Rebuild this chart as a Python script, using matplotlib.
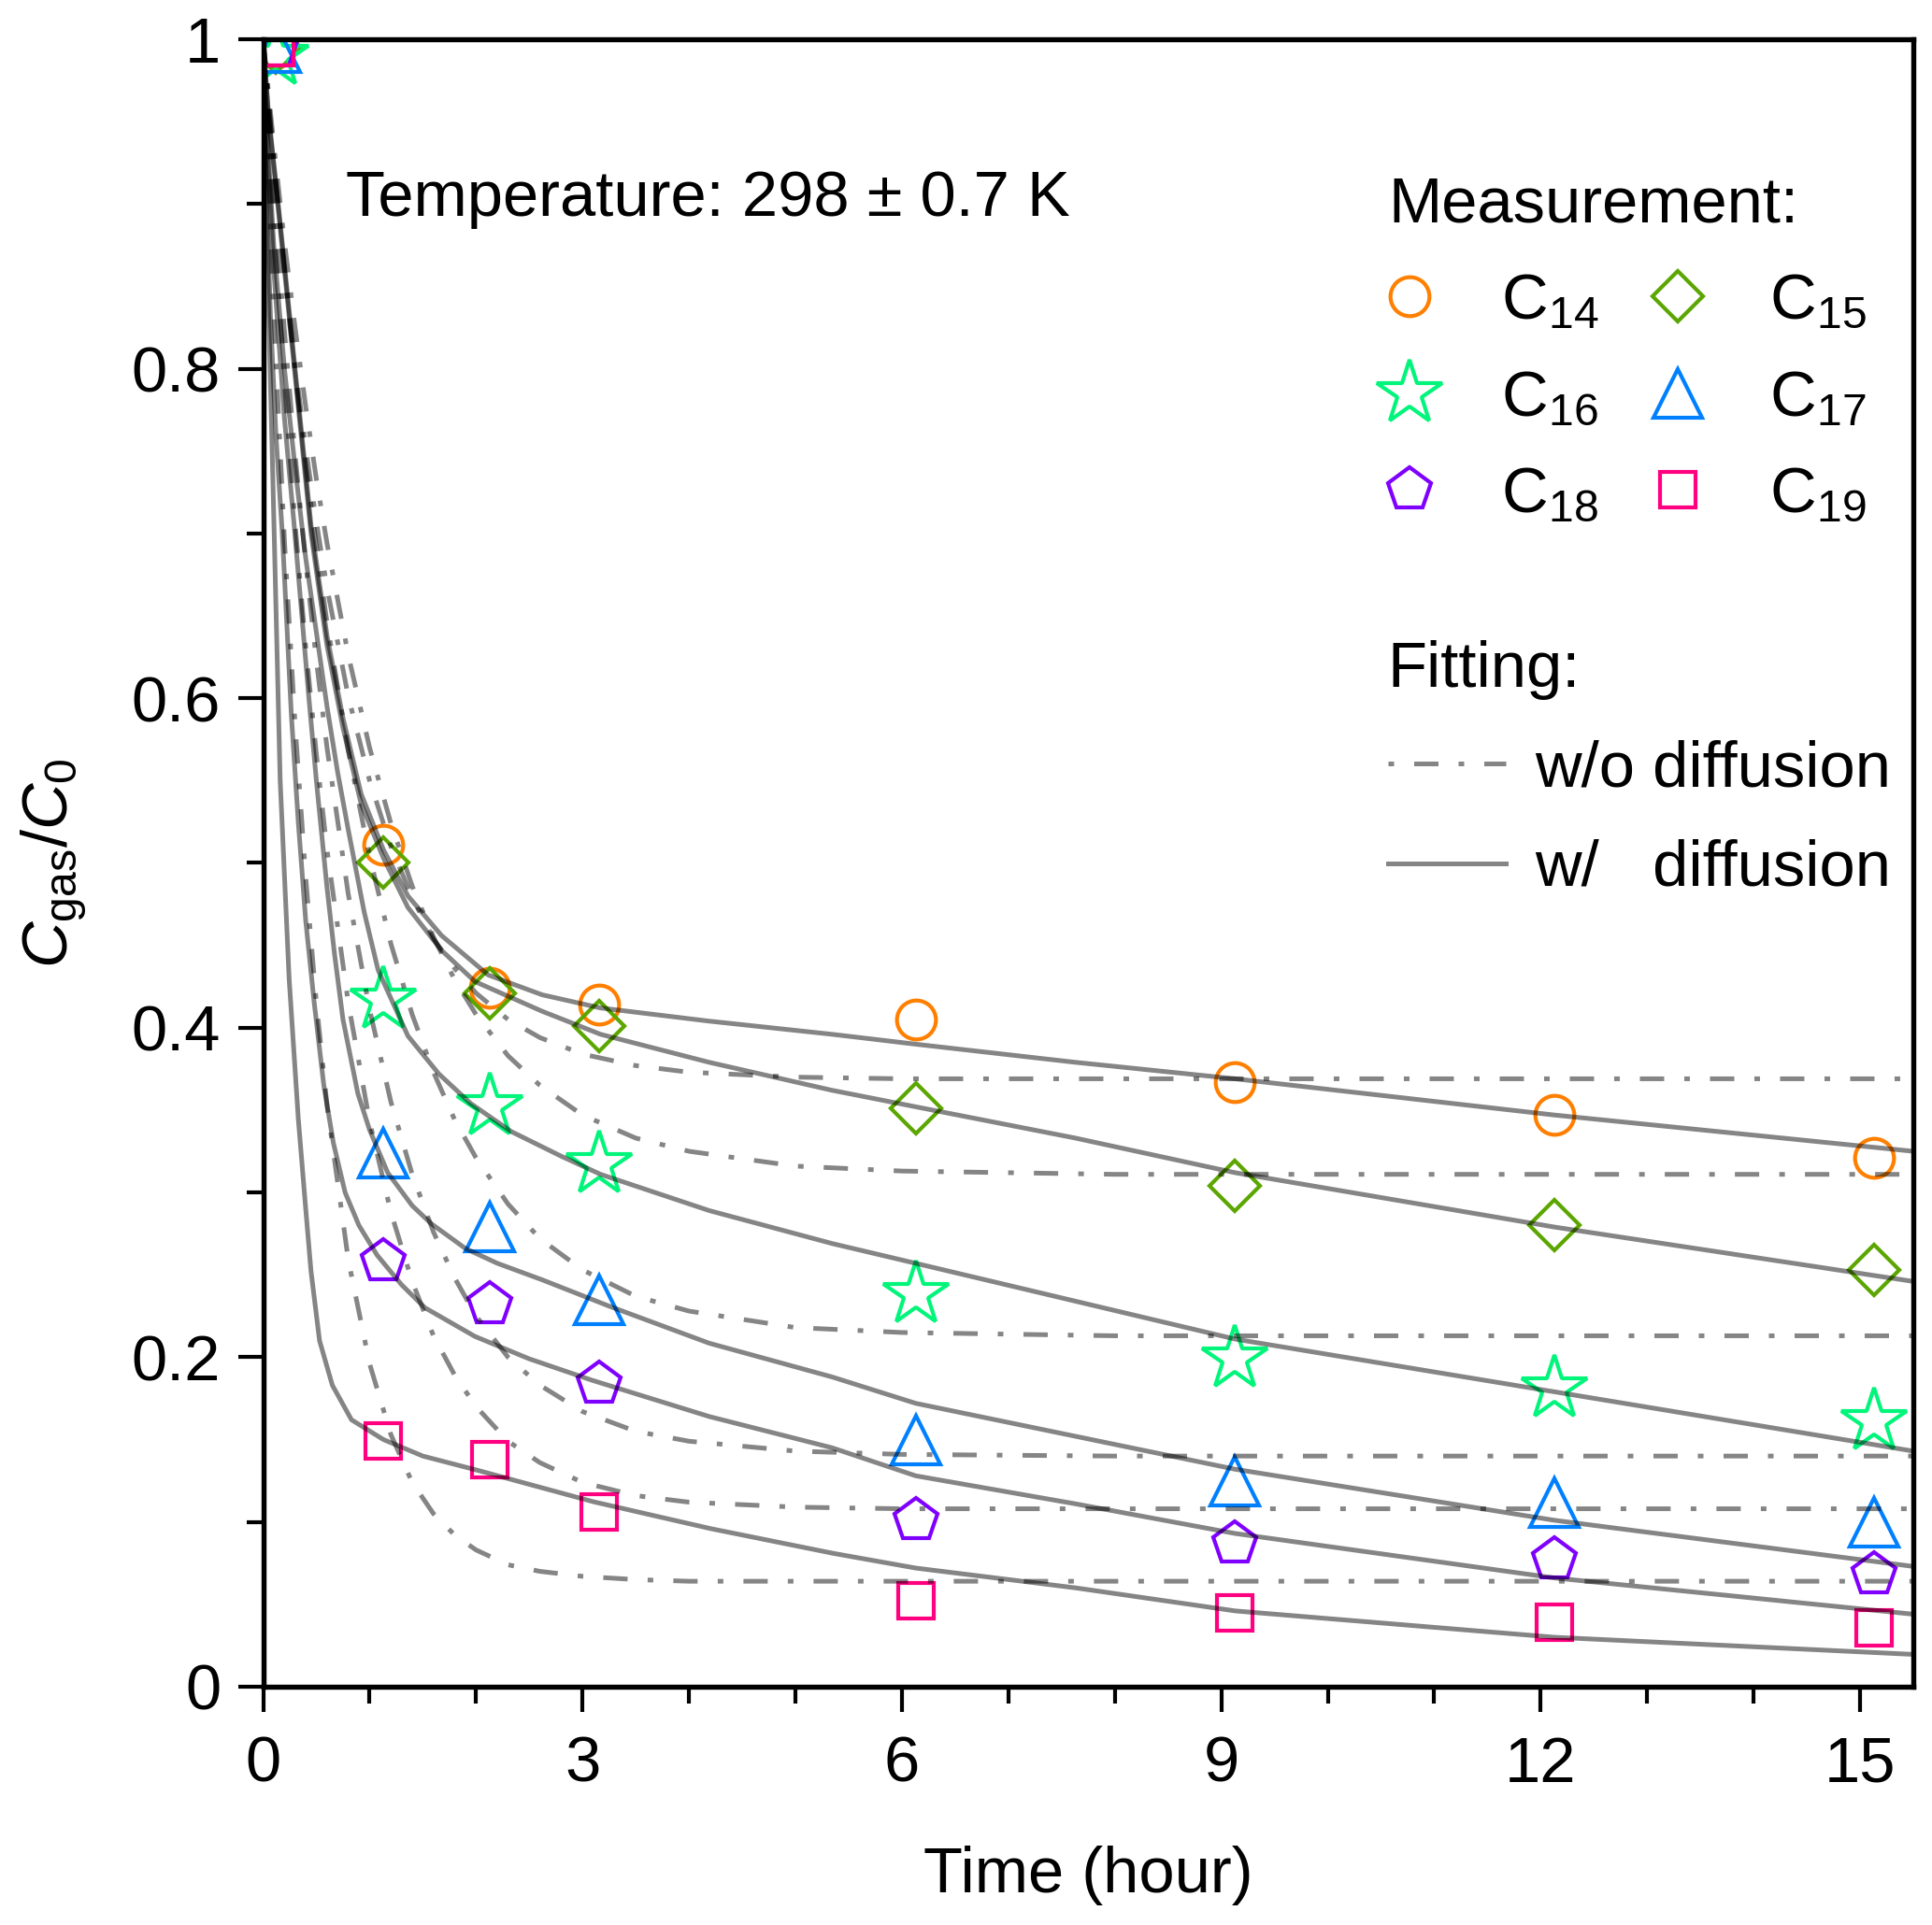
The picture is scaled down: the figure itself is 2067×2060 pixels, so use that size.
## Gas-phase decay of C14-C19 with fitted curves (with / without particle diffusion).

import matplotlib
matplotlib.use('Agg')
import matplotlib.pyplot as plt
from matplotlib.lines import Line2D
from matplotlib.ticker import MultipleLocator, FuncFormatter

plt.rcParams['font.family'] = ['Liberation Sans', 'DejaVu Sans']
plt.rcParams['mathtext.fontset'] = 'custom'
plt.rcParams['mathtext.rm'] = 'Liberation Sans'
plt.rcParams['mathtext.it'] = 'Liberation Sans:italic'
plt.rcParams['mathtext.bf'] = 'Liberation Sans:bold'

## measured points (time in hour, C_gas/C_0)
t_meas = [0.12, 1.13, 2.13, 3.16, 6.13, 9.13, 12.13, 15.13]
c14 = [0.995, 0.511, 0.424, 0.414, 0.405, 0.367, 0.347, 0.321]
c15 = [0.995, 0.500, 0.421, 0.401, 0.351, 0.304, 0.280, 0.253]
c16 = [0.990, 0.417, 0.352, 0.317, 0.238, 0.199, 0.181, 0.161]
c17 = [0.995, 0.324, 0.279, 0.235, 0.150, 0.125, 0.112, 0.100]
c18 = [0.995, 0.258, 0.232, 0.184, 0.101, 0.087, 0.077, 0.068]
c19 = [0.995, 0.149, 0.138, 0.106, 0.052, 0.045, 0.039, 0.036]

## fitting w/o diffusion
t_wo = [0, 0.1, 0.2, 0.3, 0.4, 0.5, 0.6, 0.8, 1.0, 1.2, 1.4, 1.6, 1.8, 2.0,
        2.3, 2.6, 3.0, 3.5, 4.0, 5.0, 6.0, 8.0, 15.5]
wo14 = [1.0, 0.926, 0.860, 0.803, 0.752, 0.707, 0.667, 0.601, 0.550, 0.510, 0.479, 0.454,
        0.436, 0.421, 0.405, 0.394, 0.384, 0.377, 0.373, 0.370, 0.369, 0.369, 0.369]
wo15 = [1.0, 0.936, 0.877, 0.825, 0.777, 0.733, 0.694, 0.626, 0.570, 0.524, 0.486, 0.455,
        0.429, 0.408, 0.383, 0.365, 0.347, 0.333, 0.325, 0.316, 0.313, 0.311, 0.311]
wo16 = [1.0, 0.926, 0.858, 0.797, 0.742, 0.692, 0.646, 0.568, 0.504, 0.451, 0.408, 0.373,
        0.344, 0.321, 0.293, 0.272, 0.253, 0.237, 0.228, 0.218, 0.215, 0.213, 0.213]
wo17 = [1.0, 0.906, 0.823, 0.748, 0.682, 0.623, 0.570, 0.481, 0.411, 0.355, 0.311, 0.276,
        0.248, 0.225, 0.200, 0.183, 0.167, 0.155, 0.149, 0.143, 0.141, 0.140, 0.140]
wo18 = [1.0, 0.889, 0.791, 0.706, 0.631, 0.566, 0.508, 0.415, 0.343, 0.288, 0.246, 0.213,
        0.189, 0.170, 0.149, 0.136, 0.124, 0.116, 0.112, 0.109, 0.108, 0.108, 0.108]
wo19 = [1.0, 0.833, 0.696, 0.584, 0.491, 0.415, 0.353, 0.259, 0.196, 0.153, 0.124, 0.105,
        0.092, 0.083, 0.074, 0.070, 0.067, 0.065, 0.064, 0.064, 0.064, 0.064, 0.064]

## fitting w/ diffusion
tw14 = [0, 0.05, 0.15, 0.3, 0.45, 0.6, 0.75, 0.92, 1.13, 1.36, 1.675, 2.115, 2.62, 3.17,
        4.19, 5.345, 6.13, 7.63, 9.13, 12.13, 15.5]
w14 = [1.0, 0.955, 0.895, 0.80, 0.705, 0.638, 0.588, 0.542, 0.508, 0.48, 0.456, 0.432,
       0.420, 0.412, 0.404, 0.396, 0.390, 0.379, 0.369, 0.347, 0.325]
tw15 = [0, 0.05, 0.15, 0.3, 0.45, 0.6, 0.75, 0.92, 1.13, 1.36, 1.675, 1.99, 2.62, 3.17,
        4.19, 5.345, 6.13, 7.63, 9.13, 12.13, 15.5]
w15 = [1.0, 0.953, 0.892, 0.796, 0.70, 0.632, 0.582, 0.536, 0.503, 0.473, 0.447, 0.428,
       0.410, 0.396, 0.379, 0.362, 0.352, 0.333, 0.312, 0.279, 0.246]
tw16 = [0, 0.05, 0.1, 0.2, 0.3, 0.4, 0.5, 0.6, 0.7, 0.8, 0.95, 1.08, 1.36, 1.65, 1.95,
        2.33, 2.8, 3.17, 4.19, 5.345, 6.13, 7.63, 9.13, 12.13, 15.5]
w16 = [1.0, 0.93, 0.875, 0.80, 0.74, 0.685, 0.64, 0.595, 0.555, 0.52, 0.47, 0.435, 0.395,
       0.372, 0.354, 0.337, 0.322, 0.311, 0.289, 0.269, 0.257, 0.234, 0.211, 0.179, 0.143]
tw17 = [0, 0.05, 0.1, 0.2, 0.29, 0.43, 0.5, 0.6, 0.67, 0.75, 0.89, 1.0, 1.17, 1.4, 1.58,
        1.9, 2.2, 2.62, 3.25, 4.19, 5.345, 6.13, 7.63, 9.13, 12.13, 15.5]
w17 = [1.0, 0.92, 0.86, 0.77, 0.706, 0.60, 0.55, 0.485, 0.445, 0.405, 0.36, 0.338, 0.312,
       0.292, 0.281, 0.266, 0.257, 0.247, 0.231, 0.2085, 0.188, 0.172, 0.152, 0.132, 0.101,
       0.073]
tw18 = [0, 0.03, 0.07, 0.12, 0.18, 0.265, 0.33, 0.4, 0.48, 0.57, 0.66, 0.77, 0.9, 1.07,
        1.3, 1.52, 1.99, 2.5, 3.09, 4.19, 5.345, 6.13, 7.63, 9.13, 12.13, 15.5]
w18 = [1.0, 0.91, 0.83, 0.76, 0.70, 0.59, 0.525, 0.465, 0.415, 0.365, 0.33, 0.30, 0.28,
       0.262, 0.244, 0.230, 0.2126, 0.199, 0.186, 0.164, 0.145, 0.128, 0.111, 0.093, 0.066,
       0.044]
tw19 = [0, 0.02, 0.05, 0.1, 0.16, 0.244, 0.33, 0.40, 0.45, 0.53, 0.65, 0.83, 1.13, 1.5,
        2.0, 3.1, 4.2, 5.35, 6.13, 7.63, 9.13, 12.13, 15.5]
w19 = [1.0, 0.93, 0.84, 0.71, 0.55, 0.43, 0.345, 0.29, 0.252, 0.21, 0.183, 0.162, 0.150,
       0.140, 0.1316, 0.1123, 0.096, 0.081, 0.072, 0.060, 0.046, 0.030, 0.0196]

names = ['C$_{14}$', 'C$_{15}$', 'C$_{16}$', 'C$_{17}$', 'C$_{18}$', 'C$_{19}$']
colors = ['#FF7F00', '#5BA600', '#00F57A', '#0080FF', '#7F00FF', '#FF0080']
markers = ['o', 'D', '*', '^', 'p', 's']
msizes = [10, 9, 17.5, 12.5, 11.5, 9]
meas = [c14, c15, c16, c17, c18, c19]
wo_all = [wo14, wo15, wo16, wo17, wo18, wo19]
tw_all = [tw14, tw15, tw16, tw17, tw18, tw19]
w_all = [w14, w15, w16, w17, w18, w19]

fs = 16.5
lw_fit = 1.2
a_fit = 0.48
dashdot = (5.2, 4.3, 1.2, 4.3)

fig = plt.figure(figsize=(2067/300, 2060/300), dpi=300)
ax = fig.add_axes([0.1362, 0.1238, 0.8541, 0.8558])

handles = []
for i in range(6):
  h, = ax.plot(t_meas, meas[i], linestyle='none', marker=markers[i], ms=msizes[i],
               mfc='none', mec=colors[i], mew=1.0, label=names[i], zorder=2)
  handles.append(h)

for i in range(6):
  ax.plot(t_wo, wo_all[i], color='black', alpha=a_fit, lw=lw_fit, dashes=dashdot, zorder=3)
  ax.plot(tw_all[i], w_all[i], color='black', alpha=a_fit, lw=lw_fit, zorder=3)

ax.set_xlim(0, 15.5)
ax.set_ylim(0, 1)
ax.xaxis.set_major_locator(MultipleLocator(3))
ax.xaxis.set_minor_locator(MultipleLocator(1))
ax.yaxis.set_major_locator(MultipleLocator(0.2))
ax.yaxis.set_minor_locator(MultipleLocator(0.1))
fmt = FuncFormatter(lambda v, p: '%g' % round(v, 2))
ax.xaxis.set_major_formatter(fmt)
ax.yaxis.set_major_formatter(fmt)
ax.tick_params(which='major', direction='out', length=6.4, width=1.0, labelsize=fs, pad=6)
ax.tick_params(which='minor', direction='out', length=4.3, width=1.0)
ax.tick_params(axis='y', which='major', pad=4.5)
for s in ax.spines.values():
  s.set_linewidth(1.3)

ax.set_xlabel('Time (hour)', fontsize=fs, labelpad=13)
ax.set_ylabel('$C_{\\mathrm{gas}}/C_0$', fontsize=fs, labelpad=11)

ax.text(0.78, 0.903, 'Temperature: 298 \u00b1 0.7 K', fontsize=fs, va='center', ha='left')

order = [0, 2, 4, 1, 3, 5]
leg1 = ax.legend([handles[k] for k in order], [names[k] for k in order], ncol=2,
                 loc='upper left', bbox_to_anchor=(0.672, 0.927), frameon=False,
                 fontsize=fs, title='Measurement:', title_fontsize=fs, alignment='left',
                 handlelength=0.66, handletextpad=1.1, columnspacing=0.9,
                 labelspacing=0.575, borderpad=0.25, borderaxespad=0)
ax.add_artist(leg1)

fit_handles = [Line2D([], [], color='black', alpha=a_fit, lw=lw_fit,
                      linestyle=(9.5, dashdot)),
               Line2D([], [], color='black', alpha=a_fit, lw=lw_fit)]
ax.legend(fit_handles, ['w/o diffusion', 'w/   diffusion'], loc='upper left',
          bbox_to_anchor=(0.676, 0.6407), frameon=False, fontsize=fs, title='Fitting:',
          title_fontsize=fs, alignment='left', handlelength=1.84, handletextpad=0.45,
          labelspacing=0.615, borderpad=0.14, borderaxespad=0)

fig.savefig('out.png', dpi=300)
